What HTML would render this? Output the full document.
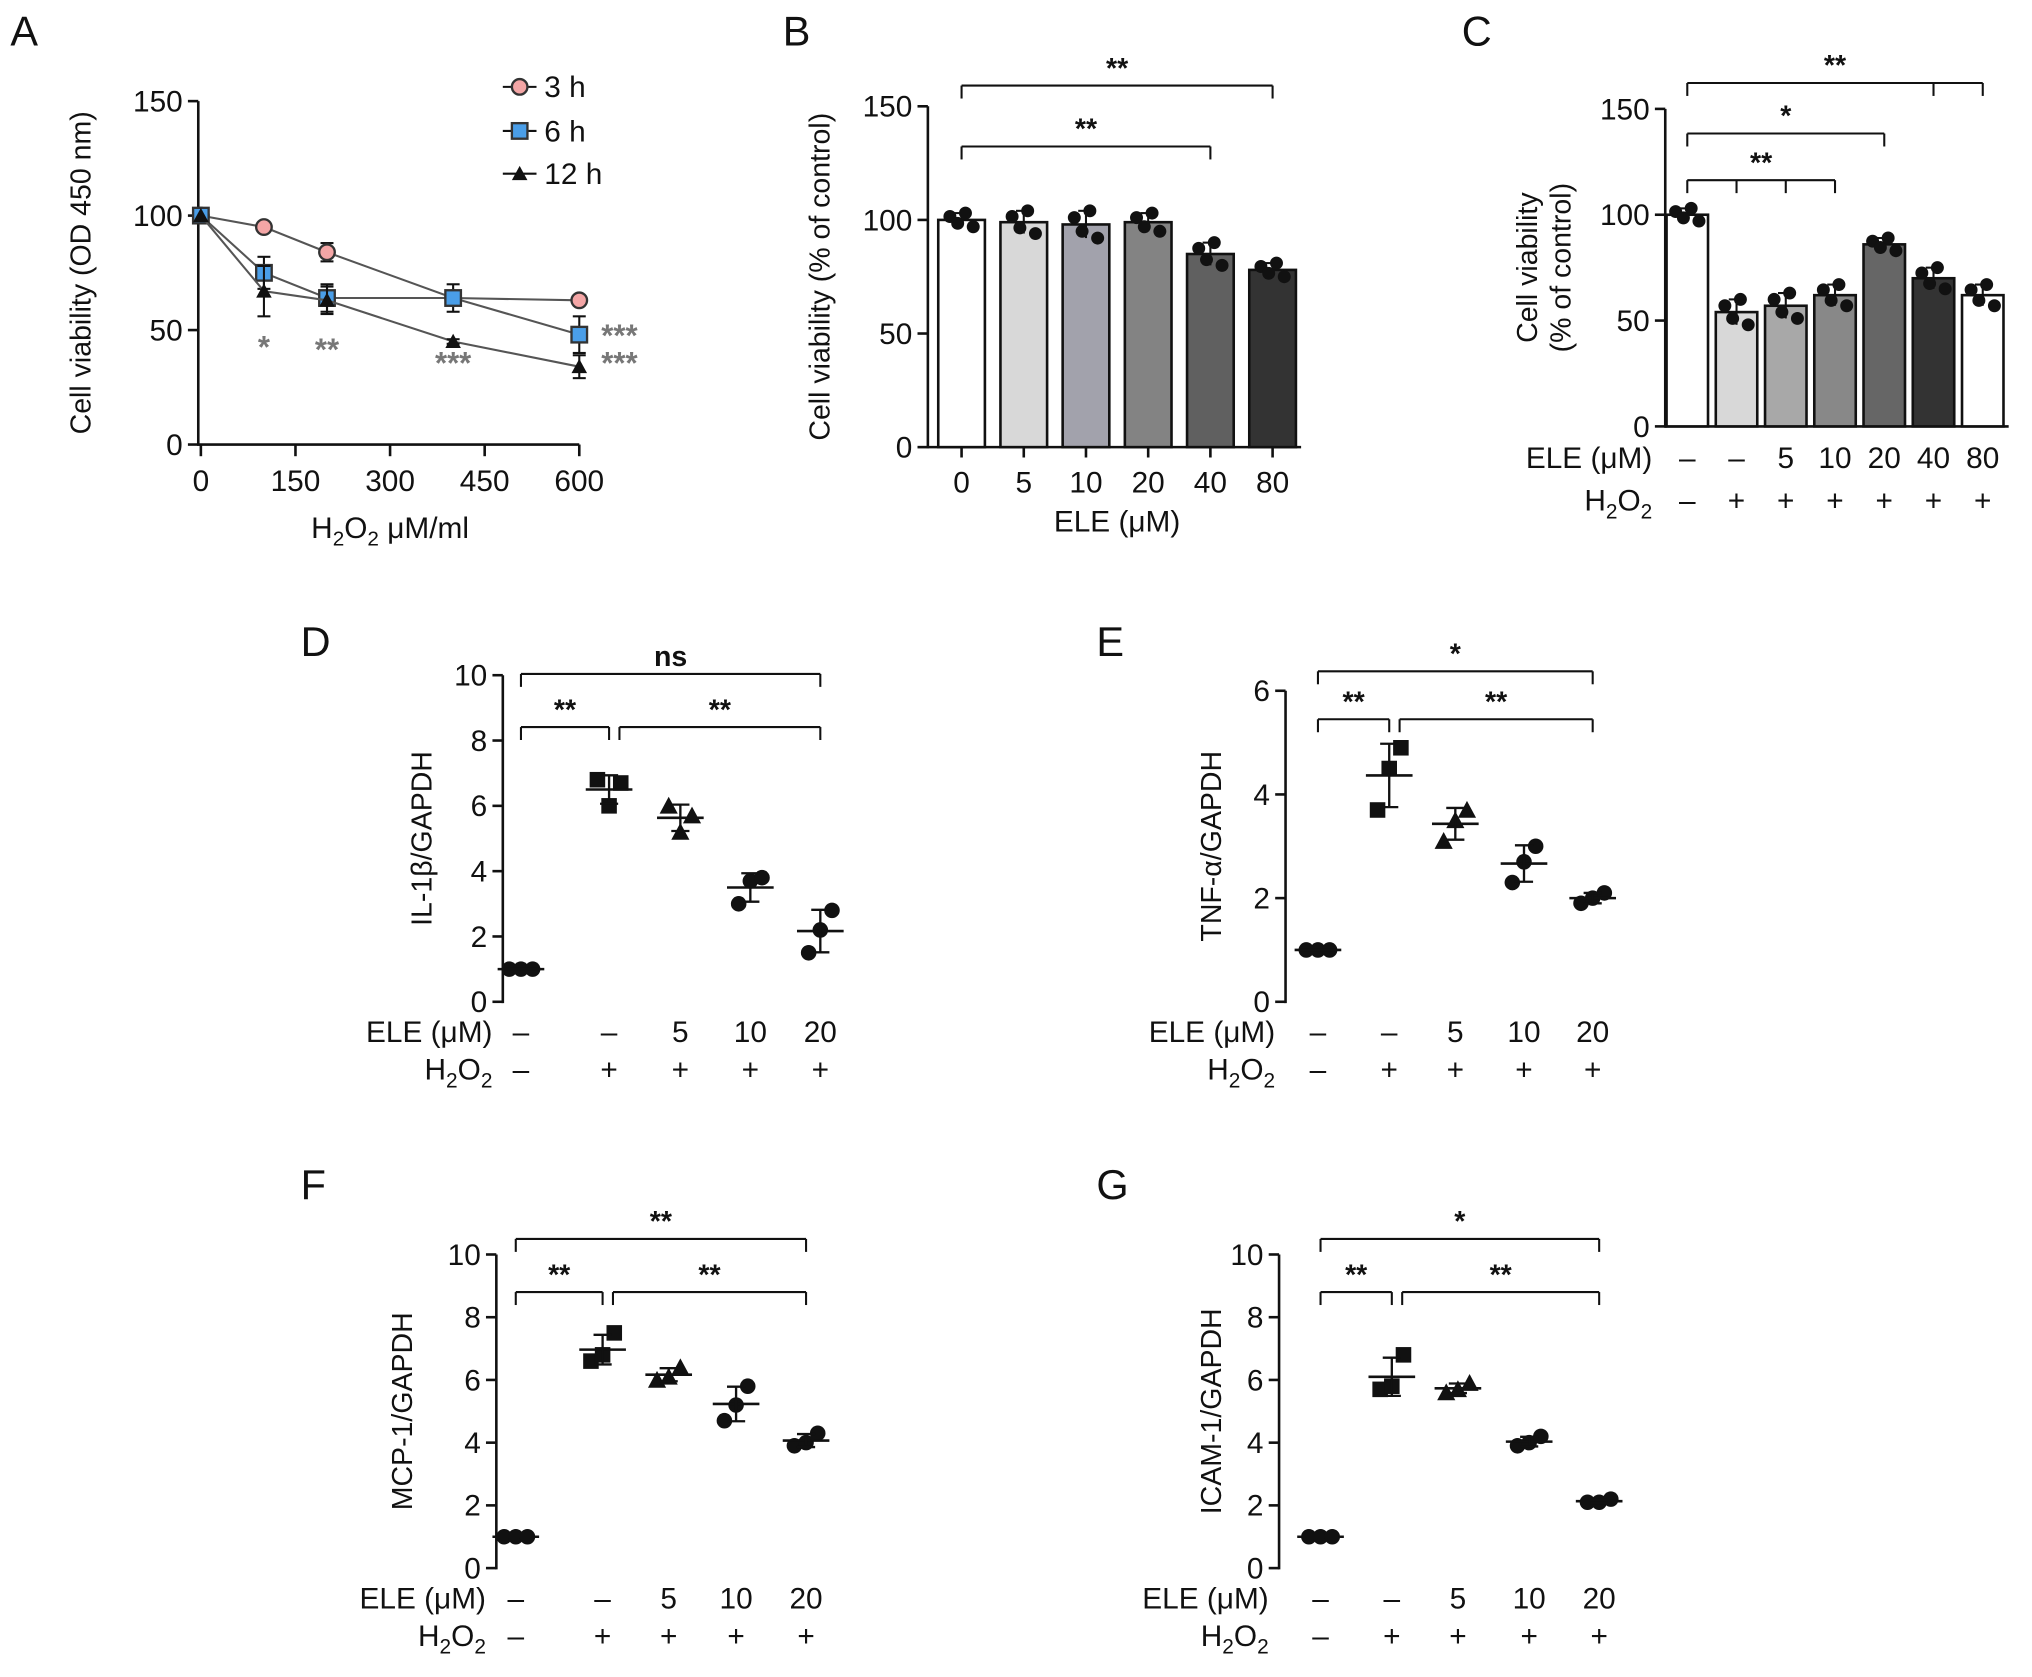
<!DOCTYPE html>
<html><head><meta charset="utf-8"><style>
html,body{margin:0;padding:0;background:#fff}
svg{display:block;font-family:"Liberation Sans",sans-serif}
text{fill:#111}
</style></head><body>
<svg id="fig" width="2032" height="1677" viewBox="0 0 1568 1294" xmlns="http://www.w3.org/2000/svg"></svg>
<script>
// ---------- Data ----------
const aX=[0,100,200,400,600];
const a3h=[100,95,84,64,63];
const a6h=[100,75,64,64,48];
const a12h=[100,67,63,45,34];
const a3hErr=[0,2,4,6,2];
const a6hErr=[0,7,6,3,8];
const a12hErr=[0,11,6,1,5];
const aXTicks=[0,150,300,450,600];
const aYTicks=[0,50,100,150];

const bCats=["0","5","10","20","40","80"];
const bVals=[100,99,98,99,85,78];
const bErr=[3,5,6,4,5,3];
const bYTicks=[0,50,100,150];

const cEle=["–","–","5","10","20","40","80"];
const cH2o2=["–","+","+","+","+","+","+"];
const cVals=[100,54,57,62,86,70,62];
const cErr=[3,6,6,5,3,5,5];
const cYTicks=[0,50,100,150];

const sEle=["–","–","5","10","20"];
const sH2o2=["–","+","+","+","+"];
const dPts=[[1,1,1],[6.8,6.0,6.7],[6.0,5.2,5.7],[3.0,3.7,3.8],[1.5,2.2,2.8]];
const ePts=[[1,1,1],[3.7,4.5,4.9],[3.1,3.5,3.7],[2.3,2.7,3.0],[1.9,2.0,2.1]];
const fPts=[[1,1,1],[6.6,6.8,7.5],[6.0,6.1,6.4],[4.7,5.2,5.8],[3.9,4.0,4.3]];
const gPts=[[1,1,1],[5.7,5.8,6.8],[5.6,5.7,5.9],[3.9,4.0,4.2],[2.1,2.1,2.2]];
const dYTicks=[0,2,4,6,8,10];
const eYTicks=[0,2,4,6];
const fYTicks=[0,2,4,6,8,10];
const gYTicks=[0,2,4,6,8,10];

// ---------- helpers ----------
const svg=document.getElementById('fig');
const NS="http://www.w3.org/2000/svg";
const FS=23;
function el(tag,attrs,parent,txt){const e=document.createElementNS(NS,tag);for(const k in attrs)e.setAttribute(k,attrs[k]);if(txt!==undefined)e.textContent=txt;(parent||svg).appendChild(e);return e;}
function grp(name){const g=document.createElementNS(NS,'g');


svg.appendChild(g);return g;}
function line(g,x1,y1,x2,y2,w){return el('line',{x1,y1,x2,y2,stroke:'#111','stroke-width':w||2},g);}
function txt(g,x,y,s,size,anchor,extra){const t=el('text',Object.assign({x,y,'font-size':size||FS,'text-anchor':anchor||'middle'},extra||{}),g,s);return t;}
function h2o2(g,x,y,size,anchor){const t=el('text',{x,y,'font-size':size,'text-anchor':anchor},g);


t.innerHTML='H<tspan font-size="'+size*0.7+'" dy="6">2</tspan><tspan dy="-6">O</tspan><tspan font-size="'+size*0.7+'" dy="6">2</tspan>';return t;}
function yAxis(g,ax,y0,y1,vmax,ticks,title,tx){
  const ys=v=>y0-(y0-y1)*v/vmax;
  line(g,ax,y0+1,ax,ys(vmax));
  ticks.forEach(v=>{line(g,ax-8,ys(v),ax,ys(v));
    const t=txt(g,ax-12,ys(v)+8,String(v),FS,'end');
    
    });
  const tt=el('text',{x:0,y:0,'font-size':22,'text-anchor':'middle',transform:`translate(${tx},${(y0+ys(vmax))/2}) rotate(-90)`},g,title);
  
  
  return ys;}
function bracket(g,x1,x2,y,label,ticks){
  line(g,x1,y,x2,y,1.6);line(g,x1,y,x1,y+10,1.6);line(g,x2,y,x2,y+10,1.6);
  (ticks||[]).forEach(x=>line(g,x,y,x,y+10,1.6));
  const t=txt(g,(x1+x2)/2,y-6,label,22,'middle',{'font-weight':'bold'});
  
  }
function letter(s,x,y){const t=txt(svg,x,y,s,32,'start');

}

// ---------- Panel A ----------
(function(){
  const g=grp('panel-a-line-chart');
  letter('A',8,35);
  const ax=153,y0=343,y1=78;
  const ys=yAxis(g,ax,y0,y1,150,aYTicks,'Cell viability (OD 450 nm)',70);
  const xs=v=>155+(447-155)*v/600;
  line(g,ax,y0,xs(600),y0);
  aXTicks.forEach(v=>{line(g,xs(v),y0,xs(v),y0+9);
    const t=txt(g,xs(v),y0+36,String(v),FS);
    
    });
  const xt=el('text',{x:xs(300),y:415,'font-size':FS,'text-anchor':'middle'},g);
  
  
  xt.innerHTML='H<tspan font-size="16" dy="6">2</tspan><tspan dy="-6">O</tspan><tspan font-size="16" dy="6">2</tspan><tspan dy="-6"> μM/ml</tspan>';
  const series=[[a3h,a3hErr,'circle','#f4a6a6'],[a6h,a6hErr,'square','#4a9ee8'],[a12h,a12hErr,'tri','#111']];
  series.forEach(([vals,err,shape,col],si)=>{
    const pts=vals.map((v,i)=>xs(aX[i])+','+ys(v)).join(' ');
    const pl=el('polyline',{points:pts,fill:'none',stroke:'#555','stroke-width':1.6},g);
    
    
    vals.forEach((v,i)=>{const x=xs(aX[i]),y=ys(v);
      if(err[i]>0){line(g,x,ys(v-err[i]),x,ys(v+err[i]),1.6);line(g,x-5,ys(v+err[i]),x+5,ys(v+err[i]),1.6);line(g,x-5,ys(v-err[i]),x+5,ys(v-err[i]),1.6);}
      let m;
      if(shape==='circle')m=el('circle',{cx:x,cy:y,r:6,fill:col,stroke:'#333','stroke-width':1.8},g);
      else if(shape==='square')m=el('rect',{x:x-6,y:y-6,width:12,height:12,fill:col,stroke:'#333','stroke-width':1.8},g);
      else m=el('polygon',{points:`${x},${y-6} ${x-6},${y+5} ${x+6},${y+5}`,fill:col},g);
      
      
    });
  });
  [['*',xs(100),ys(38)],['**',xs(200),ys(37)],['***',xs(400),ys(31)],['***',478,ys(43)],['***',478,ys(31)]].forEach(([s,x,y])=>{
    const t=txt(g,x,y,s,24,'middle',{'font-weight':'bold'});t.style.fill='#777';
    
    });
  const lg=[['3 h','circle','#f4a6a6',67],['6 h','square','#4a9ee8',101],['12 h','tri','#111',134]];
  lg.forEach(([s,shape,col,y])=>{
    const lgG=document.createElementNS(NS,'g');
    
    
    g.appendChild(lgG);
    line(lgG,388,y,414,y,1.6);
    if(shape==='circle')el('circle',{cx:401,cy:y,r:6,fill:col,stroke:'#333','stroke-width':1.8},lgG);
    else if(shape==='square')el('rect',{x:395,y:y-6,width:12,height:12,fill:col,stroke:'#333','stroke-width':1.8},lgG);
    else el('polygon',{points:`401,${y-6} 395,${y+5} 407,${y+5}`,fill:col},lgG);
    txt(lgG,420,y+8,s,FS,'start');
  });
})();

// ---------- bar panels ----------
function barPanel(name,L,cfg){
  const g=grp(name);letter(L,cfg.lx,35);
  const ys=yAxis(g,cfg.ax,cfg.y0,cfg.y1,150,cfg.ticks,'',cfg.tx);
  line(g,cfg.ax,cfg.y0,cfg.xs(cfg.vals.length-1)+cfg.w/2+4,cfg.y0);
  cfg.vals.forEach((v,i)=>{const x=cfg.xs(i);
    const r=el('rect',{x:x-cfg.w/2,y:ys(v),width:cfg.w,height:cfg.y0-ys(v),fill:cfg.colors[i],stroke:'#111','stroke-width':2},g);
    
    
    const e=cfg.err[i];
    line(g,x,ys(v-e),x,ys(v+e),1.6);line(g,x-6,ys(v+e),x+6,ys(v+e),1.6);
    [-9,-3,3,9].forEach((dx,k)=>{const d=el('circle',{cx:x+dx,cy:ys(v+[1,-1,2,-2][k]*e*0.5),r:5,fill:'#111'},g);
      
      });
  });
  return {g,ys};
}
(function(){
  const xs=i=>742+48*i;
  const {g,ys}=barPanel('panel-b-bar-chart','B',{lx:604,ax:716,y0:345,y1:82,ticks:bYTicks,tx:640,vals:bVals,err:bErr,w:36,xs,
    colors:['#fff','#d8d8d8','#a2a2ac','#838383','#606060','#333']});
  const tt=el('text',{x:0,y:0,'font-size':22,'text-anchor':'middle',transform:`translate(640,${(345+82)/2}) rotate(-90)`},g,'Cell viability (% of control)');
  
  
  bCats.forEach((c,i)=>{line(g,xs(i),345,xs(i),353);
    const t=txt(g,xs(i),380,c,FS);
    
    });
  const xt=txt(g,862,410,'ELE (μM)',FS);
  
  
  bracket(g,xs(0),xs(5),66,'**');
  bracket(g,xs(0),xs(4),113,'**');
})();
(function(){
  const xs=i=>1302+38*i;
  const {g}=barPanel('panel-c-bar-chart','C',{lx:1128,ax:1285,y0:329,y1:84,ticks:cYTicks,tx:1200,vals:cVals,err:cErr,w:32,xs,
    colors:['#fff','#d8d8d8','#a8a8a8','#888','#666','#333','#fff']});
  const tt=el('text',{x:0,y:0,'font-size':22,'text-anchor':'middle',transform:`translate(1186,${(329+84)/2}) rotate(-90)`},g);
  
  
  tt.innerHTML='<tspan x="0" dy="0">Cell viability</tspan><tspan x="0" dy="26">(% of control)</tspan>';
  const l1=txt(g,1275,361,'ELE (μM)',FS,'end');
  
  
  h2o2(g,1275,394,FS,'end');
  cEle.forEach((c,i)=>{const t=txt(g,xs(i),361,c,FS);
    
    });
  cH2o2.forEach((c,i)=>{const t=txt(g,xs(i),394,c,FS);
    
    });
  bracket(g,xs(0),xs(6),64,'**',[xs(5)]);
  bracket(g,xs(0),xs(4),103,'*');
  bracket(g,xs(0),xs(3),139,'**',[xs(1),xs(2)]);
})();

// ---------- scatter panels ----------
function scatPanel(name,L,cfg){
  const g=grp(name);
  letter(L,cfg.lx,cfg.ly);
  const ys=yAxis(g,cfg.ax,cfg.y0,cfg.y1,cfg.vmax,cfg.ticks,cfg.title,cfg.tx);
  const xs=i=>cfg.cx[i];
  const shapes=['circle','square','tri','circle','circle'];
  cfg.pts.forEach((arr,i)=>{
    const m=arr.reduce((a,b)=>a+b,0)/arr.length;
    const sd=Math.sqrt(arr.reduce((a,b)=>a+(b-m)*(b-m),0)/(arr.length-1));
    const x=xs(i);
    arr.forEach((v,k)=>{const px=x+(k-1)*9,py=ys(v);let d;
      if(shapes[i]==='square')d=el('rect',{x:px-6,y:py-6,width:12,height:12,fill:'#111'},g);
      else if(shapes[i]==='tri')d=el('polygon',{points:`${px},${py-7} ${px-7},${py+6} ${px+7},${py+6}`,fill:'#111'},g);
      else d=el('circle',{cx:px,cy:py,r:6,fill:'#111'},g);
      
      });
    const ml=line(g,x-18,ys(m),x+18,ys(m),2);
    
    
    if(sd>0){line(g,x,ys(m-sd),x,ys(m+sd),1.8);line(g,x-7,ys(m+sd),x+7,ys(m+sd),1.8);line(g,x-7,ys(m-sd),x+7,ys(m-sd),1.8);}
  });
  const r1=cfg.y0+31,r2=cfg.y0+60;
  const l1=txt(g,cfg.ax-8,r1,'ELE (μM)',FS,'end');
  
  
  h2o2(g,cfg.ax-8,r2,FS,'end');
  sEle.forEach((c,i)=>{const t=txt(g,xs(i),r1,c,FS);
    
    });
  sH2o2.forEach((c,i)=>{const t=txt(g,xs(i),r2,c,FS);
    
    });
  bracket(g,xs(0),xs(4),cfg.b1,cfg.top);
  bracket(g,xs(0),xs(1),cfg.b2,'**');
  bracket(g,xs(1)+8,xs(4),cfg.b2,'**');
}
scatPanel('panel-d-il1b','D',{lx:232,ly:506,ax:388,y0:773,y1:521,vmax:10,ticks:dYTicks,title:'IL-1β/GAPDH',tx:333,cx:[402,470,525,579,633],pts:dPts,b1:520,b2:561,top:'ns'});
scatPanel('panel-e-tnfa','E',{lx:846,ly:506,ax:992,y0:773,y1:533,vmax:6,ticks:eYTicks,title:'TNF-α/GAPDH',tx:942,cx:[1017,1072,1123,1176,1229],pts:ePts,b1:518,b2:555,top:'*'});
scatPanel('panel-f-mcp1','F',{lx:232,ly:925,ax:383,y0:1210,y1:968,vmax:10,ticks:fYTicks,title:'MCP-1/GAPDH',tx:318,cx:[398,465,516,568,622],pts:fPts,b1:956,b2:997,top:'**'});
scatPanel('panel-g-icam1','G',{lx:846,ly:925,ax:987,y0:1210,y1:968,vmax:10,ticks:gYTicks,title:'ICAM-1/GAPDH',tx:942,cx:[1019,1074,1125,1180,1234],pts:gPts,b1:956,b2:997,top:'*'});
</script>
</body></html>
